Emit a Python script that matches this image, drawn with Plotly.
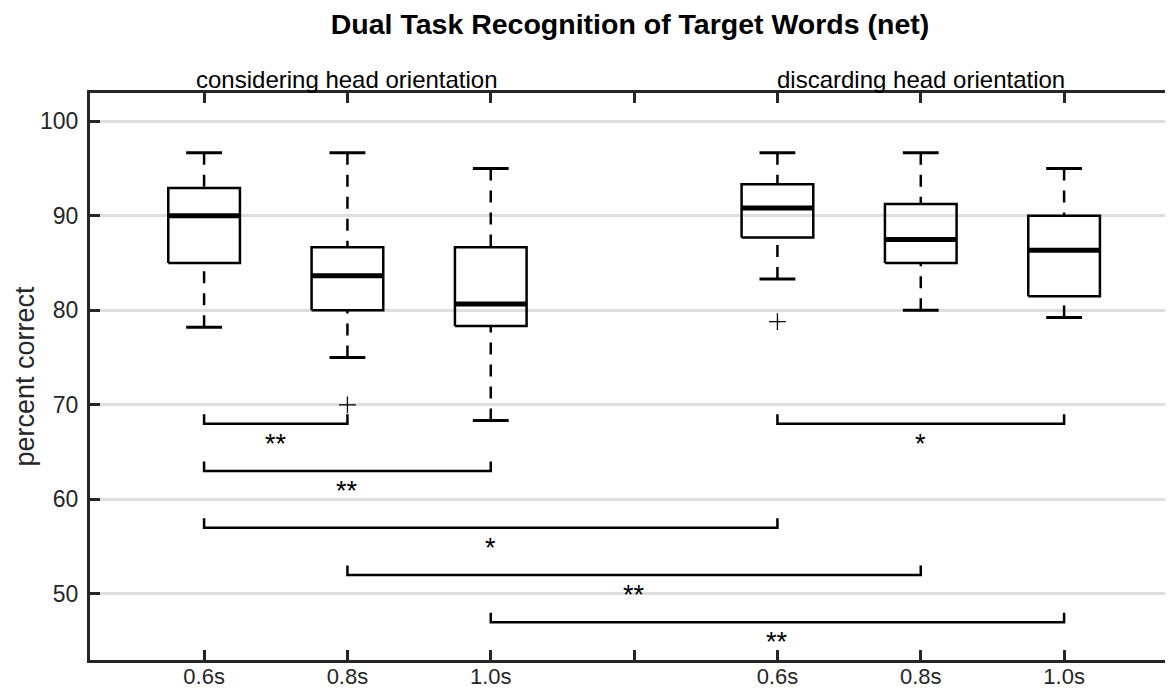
import plotly.graph_objects as go

# ---------------- data ----------------
positions = [1, 2, 3, 5, 6, 7]
tick_vals = [1, 2, 3, 4, 5, 6, 7]
tick_text = ["0.6s", "0.8s", "1.0s", "", "0.6s", "0.8s", "1.0s"]

upper_whisker = [96.67, 96.67, 95.0, 96.67, 96.67, 95.0]
q3 = [92.95, 86.68, 86.68, 93.35, 91.25, 90.0]
median = [90.0, 83.65, 80.67, 90.83, 87.5, 86.35]
q1 = [85.0, 80.0, 78.35, 87.7, 85.0, 81.5]
lower_whisker = [78.2, 75.0, 68.35, 83.33, 80.0, 79.25]

outlier_x = [2, 5]
outlier_y = [70.0, 78.8]

sig_from = [1, 1, 1, 2, 3, 5]
sig_to = [2, 3, 5, 6, 7, 7]
sig_y = [68, 63, 57, 52, 47, 68]
sig_label = ["**", "**", "*", "**", "**", "*"]

group_labels = ["considering head orientation", "discarding head orientation"]
group_centers = [2, 6]

# ---------------- styles ----------------
FONT = "Liberation Sans, Arial, Helvetica, sans-serif"
AX = "#262626"
BOX_HALF = 0.25
CAP_HALF = 0.125
BRACKET_TICK = 1.0
W, H = 1157, 683  # page body adds an 8px margin on every side

fig = go.Figure()

# boxes
bx, by = [], []
mx, my = [], []
wx, wy = [], []
cx, cy = [], []
for c, lo, a, m, b, hi in zip(positions, lower_whisker, q1, median, q3, upper_whisker):
    bx += [c - BOX_HALF, c + BOX_HALF, c + BOX_HALF, c - BOX_HALF, c - BOX_HALF, None]
    by += [a, a, b, b, a, None]
    mx += [c - BOX_HALF, c + BOX_HALF, None]
    my += [m, m, None]
    wx += [c, c, None, c, c, None]
    wy += [hi, b, None, lo, a, None]
    cx += [c - CAP_HALF, c + CAP_HALF, None, c - CAP_HALF, c + CAP_HALF, None]
    cy += [hi, hi, None, lo, lo, None]

fig.add_trace(go.Scatter(x=wx, y=wy, mode="lines",
                         line=dict(color="black", width=2.5, dash="12px,10px"),
                         hoverinfo="skip", showlegend=False))
fig.add_trace(go.Scatter(x=cx, y=cy, mode="lines",
                         line=dict(color="black", width=3),
                         hoverinfo="skip", showlegend=False))
fig.add_trace(go.Scatter(x=bx, y=by, mode="lines",
                         line=dict(color="black", width=2.5),
                         hoverinfo="skip", showlegend=False))
fig.add_trace(go.Scatter(x=mx, y=my, mode="lines",
                         line=dict(color="black", width=5),
                         hoverinfo="skip", showlegend=False))

# outliers
fig.add_trace(go.Scatter(x=outlier_x, y=outlier_y, mode="markers",
                         marker=dict(symbol="cross-thin", size=12,
                                     line=dict(color="black", width=1.3)),
                         hoverinfo="skip", showlegend=False))

# significance brackets
sx, sy = [], []
for f, t, yy in zip(sig_from, sig_to, sig_y):
    sx += [f, f, t, t, None]
    sy += [yy + BRACKET_TICK, yy, yy, yy + BRACKET_TICK, None]
fig.add_trace(go.Scatter(x=sx, y=sy, mode="lines",
                         line=dict(color="black", width=2.5),
                         hoverinfo="skip", showlegend=False))

annotations = []
for f, t, yy, lab in zip(sig_from, sig_to, sig_y, sig_label):
    annotations.append(dict(x=(f + t) / 2, y=yy, xref="x", yref="y", text=lab,
                            showarrow=False, yanchor="top", xanchor="center",
                            yshift=-3, font=dict(family=FONT, size=27, color="black")))

for txt, c in zip(group_labels, group_centers):
    annotations.append(dict(x=c, y=1, xref="x", yref="paper", text=txt,
                            showarrow=False, yanchor="middle", xanchor="center",
                            yshift=14, font=dict(family=FONT, size=24, color="black")))

annotations.append(dict(x=0, y=0.5, xref="paper", yref="paper", text="percent correct",
                        showarrow=False, textangle=-90, xanchor="center", yanchor="middle",
                        xshift=-66, font=dict(family=FONT, size=27, color=AX)))

fig.update_layout(
    width=W, height=H,
    margin=dict(l=82, r=0, t=85, b=31, pad=0, autoexpand=False),
    paper_bgcolor="white", plot_bgcolor="white",
    title=dict(text="<b>Dual Task Recognition of Target Words (net)</b>",
               x=(630 - 8) / W, xref="container", y=1 - 16 / H, yref="container",
               xanchor="center", yanchor="middle",
               font=dict(family=FONT, size=28.5, color="black")),
    annotations=annotations,
    showlegend=False,
)

fig.update_xaxes(range=[0.204, 7.704], tickmode="array", tickvals=tick_vals, ticktext=tick_text,
                 showgrid=False, zeroline=False, showline=True, linecolor=AX, linewidth=3,
                 mirror="ticks", ticks="inside", ticklen=10, tickwidth=3, tickcolor=AX,
                 automargin=False,
                 tickfont=dict(family=FONT, size=22, color=AX), ticklabelstandoff=-5)
fig.update_yaxes(range=[43, 103], tickmode="array", tickvals=[50, 60, 70, 80, 90, 100],
                 showgrid=True, gridcolor="#dedede", gridwidth=2.5, zeroline=False,
                 showline=True, linecolor=AX, linewidth=3,
                 mirror=False, ticks="inside", ticklen=10, tickwidth=3, tickcolor=AX,
                 automargin=False,
                 tickfont=dict(family=FONT, size=23, color=AX), ticklabelstandoff=4)

fig.write_html("out.html")
